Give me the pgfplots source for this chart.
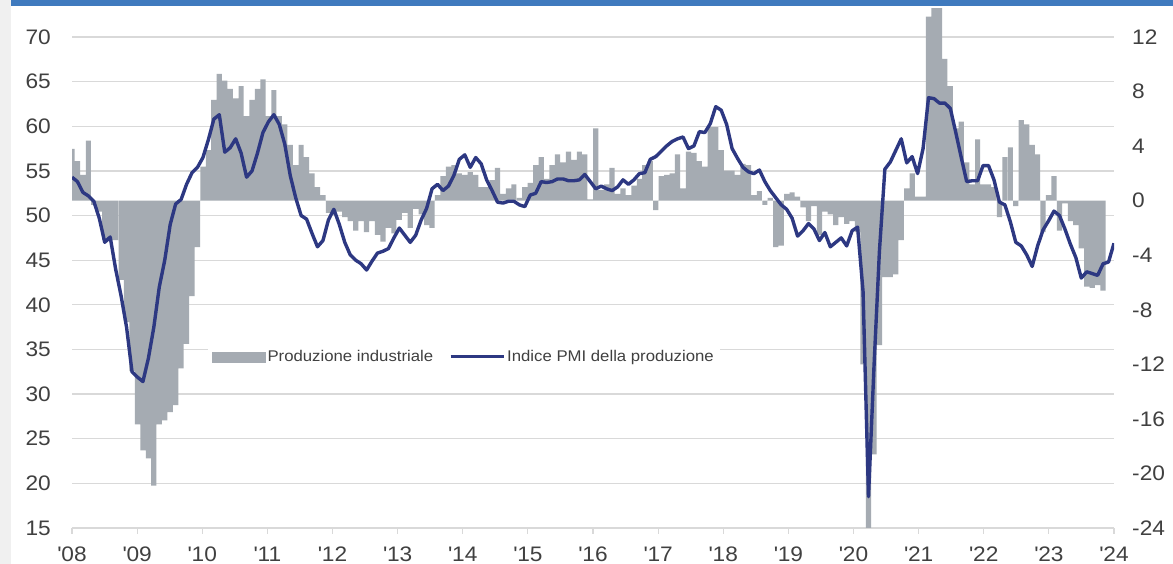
\documentclass[border=0pt]{standalone}
\usepackage{fontspec}
\setmainfont{Liberation Sans}[FakeStretch=1.08]
\usepackage{pgfplots}
\pgfplotsset{compat=1.18}
\usepackage{pgfplotstable}
\definecolor{barc}{RGB}{165,171,178}
\definecolor{linec}{RGB}{45,56,130}
\definecolor{gridc}{RGB}{217,217,217}
\definecolor{labc}{RGB}{64,64,64}
\definecolor{bandc}{RGB}{63,122,190}
\definecolor{stripc}{RGB}{240,240,240}
\pgfplotstableread{
i ip pmi
0 3.8 54.3
1 2.9 53.8
2 1.9 52.6
3 4.4 52.2
4 -0.3 51.6
5 -0.8 49.7
6 -2.9 47.0
7 -2.9 47.6
8 -2.9 44.0
9 -5.8 41.0
10 -8.9 37.5
11 -12.5 32.5
12 -16.4 31.9
13 -18.3 31.4
14 -18.9 34.0
15 -20.9 37.5
16 -16.4 42.0
17 -16.1 45.0
18 -15.5 49.0
19 -15.0 51.3
20 -12.3 51.8
21 -10.5 53.5
22 -7.0 54.8
23 -3.4 55.4
24 2.5 56.5
25 3.7 58.5
26 7.4 60.8
27 9.3 61.3
28 8.8 57.1
29 8.2 57.6
30 7.5 58.6
31 8.4 57.0
32 6.2 54.3
33 7.4 55.0
34 8.2 57.0
35 8.9 59.3
36 6.2 60.5
37 8.1 61.3
38 6.2 60.2
39 5.6 58.0
40 4.1 54.5
41 2.6 52.0
42 4.1 50.0
43 3.2 49.6
44 2.0 48.0
45 1.0 46.5
46 0.4 47.2
47 -0.9 49.5
48 -1.0 50.7
49 -0.8 49.0
50 -1.2 47.0
51 -1.5 45.6
52 -2.2 45.0
53 -1.5 44.6
54 -2.3 43.9
55 -1.5 44.9
56 -2.5 45.8
57 -3.0 46.0
58 -2.0 46.3
59 -2.4 47.5
60 -1.4 48.6
61 -0.9 47.8
62 -2.0 47.0
63 -0.6 47.8
64 -1.0 49.5
65 -1.8 50.8
66 -2.0 53.0
67 0.4 53.5
68 1.8 52.8
69 2.5 53.3
70 2.6 54.5
71 2.0 56.3
72 1.9 56.8
73 2.1 55.4
74 1.9 56.5
75 1.0 55.8
76 1.0 54.0
77 1.5 52.8
78 2.4 51.5
79 0.5 51.4
80 0.9 51.6
81 1.2 51.6
82 0.2 51.2
83 1.0 51.0
84 1.3 52.3
85 2.6 52.5
86 3.2 53.8
87 1.6 53.7
88 2.6 53.8
89 3.4 54.1
90 2.8 54.1
91 3.6 53.9
92 3.0 53.9
93 3.6 54.0
94 3.4 54.6
95 0.1 53.8
96 5.3 53.0
97 0.8 53.3
98 1.2 53.0
99 2.4 52.8
100 0.5 53.2
101 0.9 54.0
102 0.4 53.5
103 1.1 54.0
104 1.6 54.7
105 2.6 54.8
106 2.9 56.3
107 -0.7 56.6
108 1.8 57.2
109 1.9 57.8
110 2.0 58.3
111 3.4 58.6
112 0.9 58.8
113 3.6 57.5
114 3.5 57.8
115 2.9 59.4
116 2.5 59.3
117 5.4 60.3
118 5.4 62.2
119 3.7 61.8
120 2.2 60.2
121 2.2 57.5
122 1.9 56.4
123 2.7 55.4
124 2.6 54.9
125 0.4 54.7
126 0.7 55.1
127 -0.3 53.8
128 0.2 52.8
129 -3.4 52.0
130 -3.3 51.2
131 0.5 50.7
132 0.6 49.7
133 0.3 47.7
134 -0.5 48.3
135 -1.5 49.1
136 -0.4 48.5
137 -2.5 47.2
138 -0.8 48.1
139 -1.0 46.5
140 -1.8 47.0
141 -1.2 47.5
142 -1.7 46.6
143 -1.5 48.3
144 -2.3 48.7
145 -12.0 41.5
146 -30.0 18.5
147 -18.6 33.0
148 -10.6 46.0
149 -5.6 55.2
150 -5.6 56.0
151 -5.4 57.3
152 -2.9 58.6
153 0.9 55.9
154 2.0 56.6
155 0.3 54.7
156 0.3 57.5
157 13.5 63.2
158 20.0 63.1
159 20.0 62.6
160 10.4 62.6
161 8.4 62.0
162 5.3 59.3
163 5.8 56.5
164 2.8 53.8
165 1.2 53.9
166 4.5 53.9
167 1.2 55.6
168 1.2 55.6
169 1.0 54.0
170 -1.2 51.5
171 3.2 51.2
172 3.9 49.3
173 -0.4 47.0
174 5.9 46.6
175 5.6 45.6
176 4.1 44.3
177 3.4 46.6
178 -2.3 48.4
179 0.4 49.4
180 1.8 50.5
181 -2.2 50.0
182 -0.2 48.5
183 -1.5 46.8
184 -1.8 45.3
185 -3.5 43.0
186 -6.3 43.7
187 -6.4 43.5
188 -6.2 43.3
189 -6.6 44.6
190 nan 44.8
191 nan 46.9
}\data
\pgfplotsset{
  base/.style={
    at={(72pt,36pt)}, anchor=south west, scale only axis,
    width=1042pt, height=519pt, xmin=0, xmax=191,
    axis line style={draw=none}, clip=true,
  },
}
\begin{document}
\begin{tikzpicture}
\useasboundingbox (0,0) rectangle (1173pt,564pt);
\fill[white] (0,0) rectangle (1173pt,564pt);
\fill[stripc] (0,0) rectangle (11pt,564pt);
\fill[bandc] (11pt,558pt) rectangle (1173pt,564pt);
% axis A: grid, left labels, x ticks
\begin{axis}[base,
  ymin=15, ymax=73.14,
  ytick={15,20,25,30,35,40,45,50,55,60,65,70},
  yticklabels={15,20,25,30,35,40,45,50,55,60,65,70},
  ymajorgrids, major grid style={draw=gridc, line width=1.3pt},
  ytick style={draw=none},
  xtick={0,11.9375,23.875,35.8125,47.75,59.6875,71.625,83.5625,95.5,107.4375,119.375,131.3125,143.25,155.1875,167.125,179.0625,191},
  xticklabels={\textquotesingle08,\textquotesingle09,\textquotesingle10,\textquotesingle11,\textquotesingle12,\textquotesingle13,\textquotesingle14,\textquotesingle15,\textquotesingle16,\textquotesingle17,\textquotesingle18,\textquotesingle19,\textquotesingle20,\textquotesingle21,\textquotesingle22,\textquotesingle23,\textquotesingle24},
  xtick pos=bottom, xtick align=outside,
  xtick style={draw=gridc, line width=1.2pt}, major tick length=6pt,
  yticklabel style={anchor=east, inner sep=0pt, xshift=-21pt, font=\fontsize{21}{24}\selectfont, text=labc},
  xticklabel style={anchor=north, inner sep=0pt, yshift=-13pt, font=\fontsize{21}{24}\selectfont, text=labc},
]
\end{axis}
% axis B: bars, right labels
\begin{axis}[base,
  ymin=-24, ymax=14.055,
  xtick=\empty,
  ytick={-24,-20,-16,-12,-8,-4,0,4,8,12},
  yticklabels={-24,-20,-16,-12,-8,-4,0,4,8,12},
  yticklabel pos=right, ytick style={draw=none},
  yticklabel style={anchor=west, inner sep=0pt, xshift=18pt, font=\fontsize{21}{24}\selectfont, text=labc},
]
\addplot[ybar, bar width=5.2pt, fill=barc, draw=none] table[x=i,y=ip]{\data};
\end{axis}
% axis C: PMI line and legend
\begin{axis}[base,
  ymin=15, ymax=73.14,
  xtick=\empty, ytick=\empty,
  legend columns=2,
  legend style={at={(0.1305,0.3295)}, anchor=west, draw=none, fill=white,
    font=\fontsize{15.5}{18}\selectfont, text=labc,
    inner xsep=4pt, inner ysep=3pt,
    nodes={inner sep=2pt},
    /tikz/every even column/.append style={column sep=14pt}},
]
\addlegendimage{legend image code/.code={\fill[barc] (0pt,-5pt) rectangle (53pt,5pt);}}
\addlegendentry{Produzione industriale}
\addplot[linec, line width=3.4pt, line join=round, mark=none,
  legend image code/.code={\draw[linec, line width=3pt] (0pt,0pt) -- (53pt,0pt);}]
  table[x=i,y=pmi]{\data};
\addlegendentry{Indice PMI della produzione}
\end{axis}
\end{tikzpicture}
\end{document}
